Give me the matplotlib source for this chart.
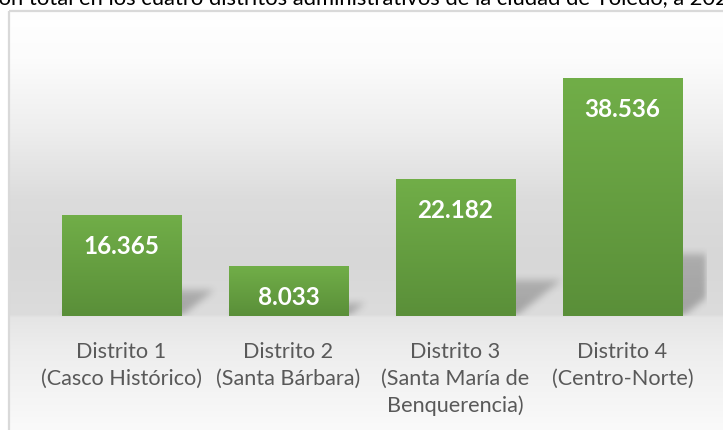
import numpy as np
import matplotlib
matplotlib.use('Agg')
import matplotlib.pyplot as plt
from matplotlib.colors import LinearSegmentedColormap

# ---------------- data ----------------
title = 'Población total en los cuatro distritos administrativos de la ciudad de Toledo, a 2021'
categories = ['Distrito 1\n(Casco Histórico)',
              'Distrito 2\n(Santa Bárbara)',
              'Distrito 3\n(Santa María de\nBenquerencia)',
              'Distrito 4\n(Centro-Norte)']
values = [16365, 8033, 22182, 38536]
value_labels = ['16.365', '8.033', '22.182', '38.536']

# ---------------- figure ----------------
W, H = 723, 431
fig = plt.figure(figsize=(W / 100, H / 100), dpi=100)
fig.patch.set_facecolor('white')

# chart-area background gradient
bg = fig.add_axes([0, 0, 1, 1], zorder=0)
bg.set_xlim(0, W)
bg.set_ylim(H, 0)
bg.axis('off')
stops_y = [12, 60, 130, 200, 260, 316, 319, 350, 431]
stops_g = [255, 252, 238, 220, 215, 220, 229, 237, 250]
rows = np.interp(np.arange(12, H + 1), stops_y, stops_g) / 255.0
img = np.repeat(rows[:, None, None], 3, axis=2)
bg.imshow(img, extent=[8.5, W, H, 12], aspect='auto', interpolation='bilinear')
bg.plot([8.5, 8.5], [12, H], color='#d9d9d9', lw=1.6, solid_capstyle='butt')
bg.plot([8.5, W], [12, 12], color='#d9d9d9', lw=1.6, solid_capstyle='butt')

# title (cut at top, as in reference)
renderer = fig.canvas.get_renderer()
tfs = 15.8
tmp = fig.text(0, 0, 'Poblaci', fontsize=tfs, family='Lato')
wpre = tmp.get_window_extent(renderer).width
tmp.remove()
fig.text((-wpre - 1) / W, 1 - 4 / H, title, fontsize=tfs, family='Lato',
         color='black', ha='left', va='baseline')

# main axes
ymax = 45000
axh = ymax * 238 / 38536
ax = fig.add_axes([38 / W, (H - 317) / H, (706 - 38) / W, axh / H], zorder=1)
ax.patch.set_alpha(0)
for s in ax.spines.values():
    s.set_visible(False)

x = np.arange(len(values))
bars = ax.bar(x, values, width=0.713, color='#66a040', zorder=3)
ax.set_xlim(-0.5, len(values) - 0.5)
ax.set_ylim(0, ymax)

# gradient on each bar
gcmap = LinearSegmentedColormap.from_list('g', ['#5a8f39', '#71ae48'])
grad = np.linspace(0, 1, 256)[:, None]
for b in bars:
    x0, w, h = b.get_x(), b.get_width(), b.get_height()
    im = ax.imshow(grad, extent=[x0, x0 + w, 0, h], origin='lower', aspect='auto',
                   cmap=gcmap, zorder=4, interpolation='bilinear')
    im.set_clip_path(b)
ax.set_xlim(-0.5, len(values) - 0.5)
ax.set_ylim(0, ymax)

# soft perspective shadows (computed in pixel space)
bb = ax.bbox
Wa, Ha = int(round(bb.width)), int(round(bb.height))
px = bb.x0 + np.arange(Wa) + 0.5
py = bb.y0 + np.arange(Ha) + 0.5
PX, PY = np.meshgrid(px, py)
mask = np.zeros((Ha, Wa))
for b in bars:
    (xl, yb), (xr, yt) = ax.transData.transform([(b.get_x(), 0),
                                                 (b.get_x() + b.get_width(), b.get_height())])
    h = yt - yb
    sh = 0.26 * h
    d = 0.33 * h
    t = (PY - yb) / sh
    inside = (t >= 0) & (t <= 1) & (PX >= xl + d * t) & (PX <= xr + d * t)
    mask = np.maximum(mask, inside * (1.0 - 0.25 * t))

def box_blur(a, r):
    k = np.ones(2 * r + 1) / (2 * r + 1)
    a = np.apply_along_axis(lambda m: np.convolve(m, k, mode='same'), 1, a)
    a = np.apply_along_axis(lambda m: np.convolve(m, k, mode='same'), 0, a)
    return a

for _ in range(3):
    mask = box_blur(mask, 3)
shadow = np.zeros((Ha, Wa, 4))
shadow[..., :3] = 0.15
shadow[..., 3] = np.clip(mask * 0.32, 0, 1)
ax.imshow(shadow, extent=[-0.5, len(values) - 0.5, 0, ymax], origin='lower',
          aspect='auto', zorder=2, interpolation='bilinear')
ax.set_xlim(-0.5, len(values) - 0.5)
ax.set_ylim(0, ymax)

# value labels
for i, (v, lab) in enumerate(zip(values, value_labels)):
    ax.annotate(lab, xy=(i, v), xytext=(0, -22), textcoords='offset points',
                ha='center', va='center', color='white', fontweight='bold',
                fontsize=17.5, family='Lato', zorder=6)

# category labels
ax.set_yticks([])
ax.set_xticks(x)
ax.set_xticklabels(categories, fontsize=15.6, color='#595959', family='Lato',
                   linespacing=1.4)
ax.tick_params(axis='x', length=0, pad=18)

fig.savefig('out.png', dpi=100)
